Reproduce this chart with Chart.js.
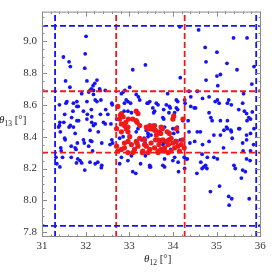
<!DOCTYPE html>
<html>
<head>
<meta charset="utf-8">
<script src="https://cdn.jsdelivr.net/npm/chart.js@4.4.1/dist/chart.umd.min.js"></script>
<style>
  body { margin: 0; background: #fff; }
  canvas { display: block; }
</style>
</head>
<body>
<canvas id="scatterChart" width="272" height="272"></canvas>

<script>
// axis ranges and ticks
var th12Range = [31, 36.02];
var th13Range = [7.77, 9.185];
var th12Ticks = [31, 32, 33, 34, 35, 36];
var th13Ticks = [7.8, 8.0, 8.2, 8.4, 8.6, 8.8, 9.0];

// dashed box bounds
var blueBoxTh12 = [31.3, 35.91];
var blueBoxTh13 = [7.84, 9.095];
var redBoxTh12 = [32.7, 34.27];
var redBoxTh13 = [8.30, 8.685];

// scan points (theta12, theta13)
var bluePoints = [
  [32.01,9.03],[31.49,8.90],[31.62,8.87],[31.65,8.84],[31.99,8.92],[31.98,8.83],[31.54,8.75],[31.64,8.71],
  [32.03,8.75],[32.26,8.755],[32.21,8.735],[32.17,8.72],[32.13,8.70],[32.32,8.70],[33.08,8.82],[33.37,8.85],
  [34.16,9.09],[34.17,8.77],[34.59,9.07],[35.39,9.02],[35.70,9.02],[34.74,8.96],[35.01,8.93],[34.76,8.87],
  [35.24,8.86],[35.47,8.82],[35.86,8.84],[35.01,8.78],[35.09,8.79],[34.76,8.755],[35.03,8.72],[35.81,8.73],
  [31.91,8.67],[32.07,8.68],[32.10,8.69],[32.18,8.69],[32.18,8.665],[32.33,8.69],[32.45,8.69],[31.57,8.62],
  [31.55,8.61],[31.72,8.61],[31.80,8.62],[31.80,8.59],[32.03,8.62],[32.22,8.63],[32.26,8.62],[31.40,8.60],
  [31.95,8.56],[32.13,8.57],[32.60,8.61],[31.80,8.50],[31.84,8.50],[32.03,8.51],[32.14,8.525],[32.22,8.48],
  [32.14,8.49],[31.50,8.49],[32.41,8.49],[32.45,8.48],[32.58,8.48],[31.40,8.47],[31.65,8.47],[31.72,8.46],
  [32.18,8.47],[31.71,8.56],[31.52,8.54],[31.68,8.52],[32.04,8.54],[32.34,8.54],[32.46,8.57],[32.51,8.54],
  [31.41,8.49],[31.62,8.46],[32.61,8.60],[31.83,8.59],[32.35,8.63],
  [32.86,8.68],[32.82,8.67],[33.01,8.71],[33.16,8.665],[33.21,8.65],[33.24,8.63],[32.93,8.63],[32.97,8.62],
  [32.89,8.61],[33.03,8.61],[33.41,8.61],[33.43,8.61],[33.47,8.62],[33.62,8.61],[33.66,8.60],[33.54,8.58],
  [33.58,8.56],[33.56,8.55],[33.88,8.67],[33.85,8.60],[33.92,8.59],[33.94,8.58],[34.08,8.63],[34.11,8.62],
  [34.27,8.63],[34.28,8.61],[34.08,8.58],[34.11,8.57],[34.04,8.55],[33.77,8.52],[33.79,8.51],[32.71,8.51],
  [32.88,8.56],[32.97,8.56],[33.05,8.55],[34.23,8.50],[33.54,8.47],[33.81,8.46],[33.79,8.57],[33.91,8.55],
  [34.10,8.46],[32.90,8.69],
  [34.56,8.685],[34.37,8.685],[34.41,8.65],[34.68,8.64],[34.83,8.65],[35.02,8.63],[35.06,8.61],[35.25,8.61],
  [35.34,8.60],[34.41,8.59],[34.52,8.58],[34.83,8.55],[34.87,8.52],[34.90,8.50],[35.09,8.50],[35.25,8.50],
  [35.23,8.46],[35.51,8.57],[35.64,8.56],[35.69,8.545],[35.74,8.52],[35.70,8.50],[35.78,8.51],[35.82,8.555],
  [35.53,8.45],[34.35,8.50],[35.28,8.63],[35.60,8.61],[34.97,8.62],[35.33,8.44],[34.49,8.58],[35.62,8.67],
  [31.38,8.46],[32.10,8.44],[32.29,8.43],[31.42,8.43],[31.53,8.38],[31.76,8.42],[31.95,8.38],[31.97,8.36],
  [32.14,8.37],[31.67,8.34],[31.76,8.33],[31.78,8.32],[32.07,8.34],[32.37,8.36],[32.60,8.38],[32.62,8.36],
  [32.56,8.35],[31.44,8.31],[31.47,8.27],[31.67,8.27],[31.82,8.26],[31.87,8.25],[32.10,8.24],[32.22,8.23],
  [32.37,8.22],[31.34,8.23],[31.43,8.33],[31.32,8.27],[31.81,8.36],[32.11,8.375],[32.16,8.31],[31.79,8.235],
  [31.91,8.235],[32.28,8.24],[31.41,8.21],[31.98,8.19],[32.36,8.205],[32.78,8.23],[33.05,8.28],[33.08,8.18],
  [31.52,8.39],[33.15,8.17],[33.47,8.21],
  [32.78,8.39],[32.86,8.40],[33.16,8.43],[33.20,8.45],[33.39,8.44],[33.43,8.42],[33.50,8.41],[33.43,8.40],
  [33.34,8.39],[33.28,8.38],[33.77,8.35],[33.79,8.36],[34.00,8.45],[34.11,8.43],[34.02,8.42],[33.95,8.32],
  [33.81,8.26],[34.04,8.27],[34.00,8.25],[33.47,8.22],[33.77,8.22],[32.97,8.25],[32.82,8.27],[34.26,8.27],
  [34.30,8.26],[33.36,8.36],[33.91,8.35],[34.06,8.375],[34.17,8.38],[33.37,8.28],[33.26,8.23],[33.49,8.21],
  [34.12,8.24],[34.13,8.18],[34.55,8.17],[34.67,8.20],[34.71,8.21],[34.78,8.20],[34.86,8.055],[35.07,8.09],
  [35.43,8.20],[35.60,8.19],[35.66,8.18],[35.57,8.14],[35.28,8.025],[35.35,8.01],[35.29,7.97],[35.75,8.01],
  [33.81,8.21],[34.27,8.20],
  [34.37,8.43],[34.56,8.43],[34.63,8.43],[34.94,8.41],[35.09,8.41],[35.17,8.44],[35.25,8.45],[35.34,8.43],
  [35.51,8.45],[35.69,8.41],[35.78,8.42],[35.86,8.45],[34.39,8.36],[34.50,8.37],[34.83,8.37],[34.68,8.35],
  [35.36,8.39],[35.69,8.38],[35.16,8.33],[35.61,8.31],[35.78,8.31],[34.67,8.29],[34.79,8.27],[34.94,8.27],
  [35.02,8.26],[34.64,8.24],[34.75,8.22],[35.40,8.22],[35.69,8.26],[35.77,8.25],[34.33,8.26],[35.85,8.35],
  [35.60,8.36]
];

var redPoints = [
  [32.74,8.59],[32.80,8.535],[32.92,8.49],[32.98,8.51],
  [32.82,8.545],[32.86,8.525],[32.78,8.51],[33.16,8.56],[33.20,8.545],[33.08,8.51],[33.16,8.50],[32.82,8.48],
  [32.89,8.47],[32.97,8.46],[33.24,8.47],[33.47,8.47],[33.39,8.46],[33.58,8.47],[33.73,8.46],[34.02,8.53],
  [34.00,8.51],[34.23,8.51],[33.18,8.49],[33.49,8.45],[33.60,8.44],[33.76,8.45],[33.87,8.43],[33.72,8.42],
  [32.71,8.45],[32.82,8.43],[32.93,8.45],[32.97,8.43],[33.01,8.40],[32.97,8.37],[33.05,8.35],[32.89,8.33],
  [32.82,8.32],[32.74,8.31],[32.71,8.34],[33.12,8.32],[33.20,8.34],[33.16,8.37],[33.24,8.39],[33.35,8.38],
  [33.43,8.45],[33.50,8.45],[33.58,8.44],[33.62,8.41],[33.69,8.43],[33.66,8.38],[33.77,8.38],[33.85,8.37],
  [33.89,8.35],[33.81,8.33],[33.73,8.32],[33.66,8.31],[33.58,8.33],[33.47,8.32],[33.39,8.34],[33.35,8.35],
  [33.50,8.36],[33.96,8.39],[34.00,8.36],[34.04,8.33],[34.11,8.34],[34.08,8.37],[34.19,8.35],[34.23,8.38],
  [33.96,8.31],[33.89,8.30],[33.81,8.31],[34.15,8.31],[34.26,8.33],[32.97,8.30],[33.08,8.30],[33.31,8.31],
  [33.43,8.30],[33.66,8.30],[34.08,8.45],[33.92,8.42],
  [33.30,8.30],[33.68,8.35],[33.72,8.375],[33.18,8.36],[33.60,8.38],[33.91,8.38],[32.89,8.36]
];

var blueColor = 'rgb(20,20,245)';
var redColor = 'rgb(240,25,25)';
var serif = '"Liberation Serif", "DejaVu Serif", serif';

function toXY(list) {
  return list.map(function (p) { return { x: p[0], y: p[1] }; });
}

function vLine(v) {
  return [{ x: v, y: th13Range[0] }, { x: v, y: th13Range[1] }];
}
function hLine(v) {
  return [{ x: th12Range[0], y: v }, { x: th12Range[1], y: v }];
}

var datasets = [];

// dashed boundary lines
function addLines(vals, maker, color) {
  for (var i = 0; i < vals.length; i++) {
    datasets.push({
      type: 'line',
      data: maker(vals[i]),
      borderColor: color,
      borderWidth: 1.8,
      borderDash: [6, 3],
      pointRadius: 0,
      fill: false,
      order: 0
    });
  }
}
addLines(blueBoxTh12, vLine, blueColor);
addLines(blueBoxTh13, hLine, blueColor);
addLines(redBoxTh12, vLine, redColor);
addLines(redBoxTh13, hLine, redColor);

datasets.push({
  type: 'scatter',
  data: toXY(redPoints),
  backgroundColor: redColor,
  borderWidth: 0,
  pointRadius: 2.6,
  order: 1
});
datasets.push({
  type: 'scatter',
  data: toXY(bluePoints),
  backgroundColor: blueColor,
  borderWidth: 0,
  pointRadius: 1.9,
  order: 2
});

// draw a label like θ₁₃ [°] with a real subscript
function drawTheta(ctx, x, y, sub) {
  ctx.save();
  ctx.fillStyle = '#222';
  ctx.textBaseline = 'alphabetic';
  ctx.textAlign = 'left';
  ctx.font = 'italic 11px ' + serif;
  ctx.fillText('θ', x, y);
  x += ctx.measureText('θ').width;
  ctx.font = '7.5px ' + serif;
  ctx.fillText(sub, x, y + 2.5);
  x += ctx.measureText(sub).width;
  ctx.font = '11px ' + serif;
  ctx.fillText(' [°]', x, y);
  ctx.restore();
}

// frame with inward major/minor ticks on all four sides, plus axis titles
var framePlugin = {
  id: 'frame',
  afterDraw: function (chart) {
    var ctx = chart.ctx;
    var a = chart.chartArea;
    var xs = chart.scales.x;
    var ys = chart.scales.y;
    ctx.save();
    ctx.strokeStyle = '#8a8a8a';
    ctx.lineWidth = 1;
    ctx.strokeRect(a.left + 0.5, a.top + 0.5, a.right - a.left - 1, a.bottom - a.top - 1);

    ctx.beginPath();
    var v, px, len, k;
    for (k = 0; k <= 30; k++) {
      v = th12Range[0] + k * 0.2;
      if (v > th12Range[1]) break;
      px = Math.round(xs.getPixelForValue(v)) + 0.5;
      len = (k % 5 === 0) ? 5 : 2.5;
      ctx.moveTo(px, a.bottom); ctx.lineTo(px, a.bottom - len);
      ctx.moveTo(px, a.top); ctx.lineTo(px, a.top + len);
    }
    for (k = 0; k <= 40; k++) {
      v = 7.8 + k * 0.05;
      if (v > th13Range[1]) break;
      px = Math.round(ys.getPixelForValue(v)) + 0.5;
      len = (k % 4 === 0) ? 5 : 2.5;
      ctx.moveTo(a.left, px); ctx.lineTo(a.left + len, px);
      ctx.moveTo(a.right, px); ctx.lineTo(a.right - len, px);
    }
    ctx.stroke();
    ctx.restore();

    drawTheta(ctx, 144, 262, '12');
    drawTheta(ctx, -1, 123, '13');
  }
};

new Chart(document.getElementById('scatterChart'), {
  type: 'scatter',
  data: { datasets: datasets },
  options: {
    responsive: false,
    animation: false,
    layout: { padding: { top: 8, right: 11, left: 0, bottom: 0 } },
    plugins: { legend: { display: false }, tooltip: { enabled: false } },
    scales: {
      x: {
        type: 'linear',
        min: th12Range[0],
        max: th12Range[1],
        afterFit: function (s) { s.height = 35; },
        afterBuildTicks: function (s) { s.ticks = th12Ticks.map(function (v) { return { value: v }; }); },
        grid: { display: false, drawTicks: false },
        border: { display: false },
        ticks: {
          padding: 3,
          maxRotation: 0,
          color: '#333',
          font: { family: serif, size: 11 },
          callback: function (v) { return String(v); }
        }
      },
      y: {
        type: 'linear',
        min: th13Range[0],
        max: th13Range[1],
        afterFit: function (s) { s.width = 42; },
        afterBuildTicks: function (s) { s.ticks = th13Ticks.map(function (v) { return { value: v }; }); },
        grid: { display: false, drawTicks: false },
        border: { display: false },
        ticks: {
          padding: 5,
          color: '#333',
          font: { family: serif, size: 11 },
          callback: function (v) { return Number(v).toFixed(1); }
        }
      }
    }
  },
  plugins: [framePlugin]
});
</script>
</body>
</html>
